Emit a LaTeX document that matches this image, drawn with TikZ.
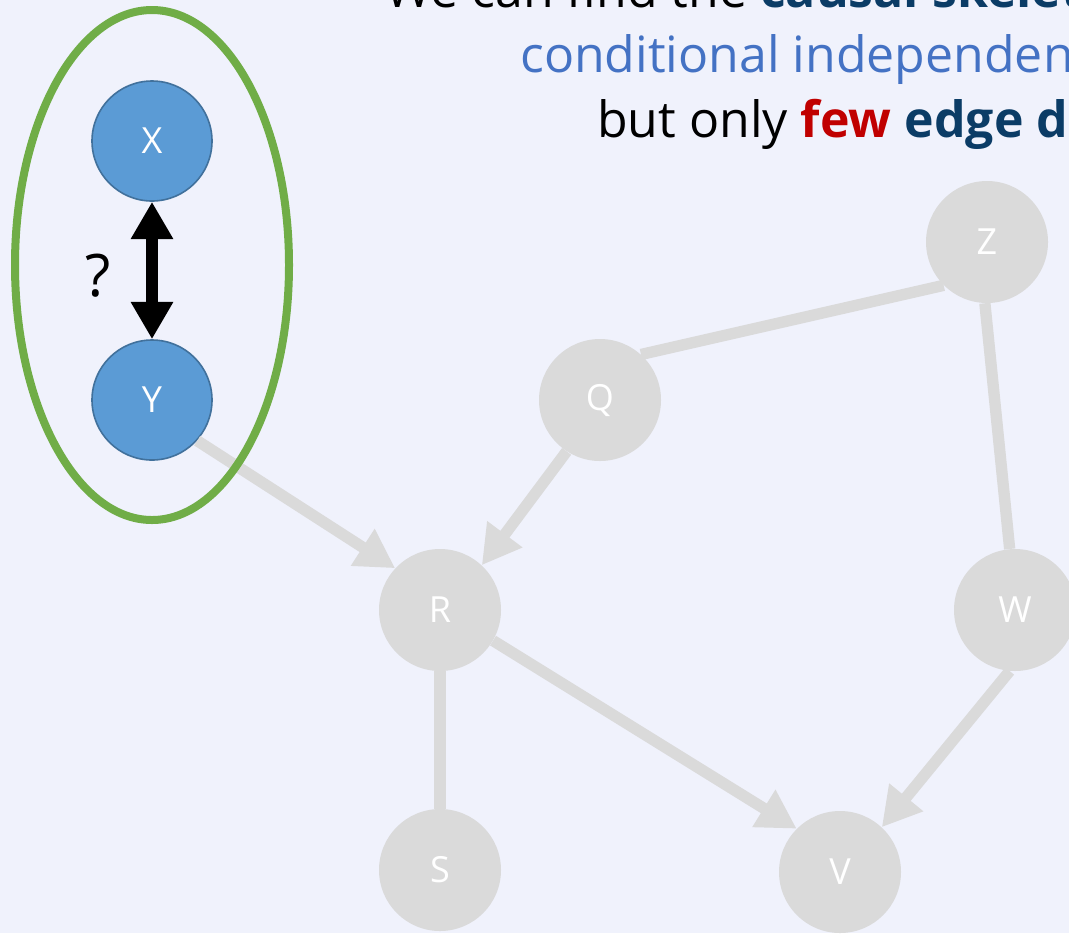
\documentclass[tikz,border=0pt]{standalone}
\usepackage{fontspec}
\setmainfont{Open Sans}
\usetikzlibrary{arrows.meta}

\definecolor{bgcol}{HTML}{F0F2FC}
\definecolor{graynode}{HTML}{DADADA}
\definecolor{blueish}{HTML}{5B9BD5}
\definecolor{blueedge}{HTML}{41719C}
\definecolor{ellgreen}{HTML}{70AD47}
\definecolor{navy}{HTML}{0B3C66}
\definecolor{lightblue}{HTML}{4472C4}
\definecolor{darkred}{HTML}{C00000}

\tikzset{
  grayvar/.style={circle, fill=graynode, draw=none, minimum size=91.5pt, inner sep=0pt,
    text=white, font=\fontsize{27}{30}\selectfont},
  bluevar/.style={circle, fill=blueish, draw=blueedge, line width=1.2pt, minimum size=90pt,
    inner sep=0pt, text=white, font=\fontsize{27}{30}\selectfont},
  link/.style={draw=graynode, line width=8.5pt},
  dirlink/.style={link, -{Triangle[length=29pt, width=31pt]}},
  headline/.style={anchor=base west, inner sep=0pt, font=\fontsize{37.5}{45}\selectfont},
}

\begin{document}
\begin{tikzpicture}[x=0.75pt, y=-0.75pt]
  % canvas
  \useasboundingbox (0,0) rectangle (1069,933);
  \fill[bgcol] (0,0) rectangle (1069,933);
  \clip (0,0) rectangle (1069,933);

  % heading lines (run past the right edge)
  \node[headline] (l1) at (385,7) {We can find the \textcolor{navy}{\bfseries causal skeleton} using};
  \node[headline, text=lightblue] (l2) at (520,72) {conditional independence tests,};
  \node[headline] (l3) at (597,137) {but only \textcolor{darkred}{\bfseries few} \textcolor{navy}{\bfseries edge directions}};

  % gray graph
  \node[grayvar] (Z) at (987,242) {Z};
  \node[grayvar] (Q) at (600,400) {Q};
  \node[grayvar] (R) at (440,610) {R};
  \node[grayvar] (W) at (1015,610) {W};
  \node[grayvar] (S) at (440,870) {S};
  \node[grayvar] (V) at (840,872) {V};

  % pair under question
  \node[bluevar] (X) at (152,141) {X};
  \node[bluevar] (Y) at (152,400) {Y};

  % edges
  \draw[link] (Z.225) -- (Q.48);
  \draw[link] (Z.268) -- (W.95);
  \draw[link] (R) -- (S);
  \draw[dirlink] (Q.237) -- (R.47);
  \draw[dirlink] (R.330) -- (V.135);
  \draw[dirlink] (W.265) -- (V.47);
  \draw[dirlink] (Y.318) -- (R.137);

  % grouping ellipse
  \draw[ellgreen, line width=6pt] (152,265) ellipse [x radius=137, y radius=255];

  % undecided direction
  \draw[line width=9.5pt, {Triangle[length=28pt, width=30pt]}-{Triangle[length=28pt, width=30pt]}] (X) -- (Y);
  \node[font=\fontsize{44}{50}\selectfont, inner sep=0pt] (qm) at (98,276) {?};
\end{tikzpicture}
\end{document}
